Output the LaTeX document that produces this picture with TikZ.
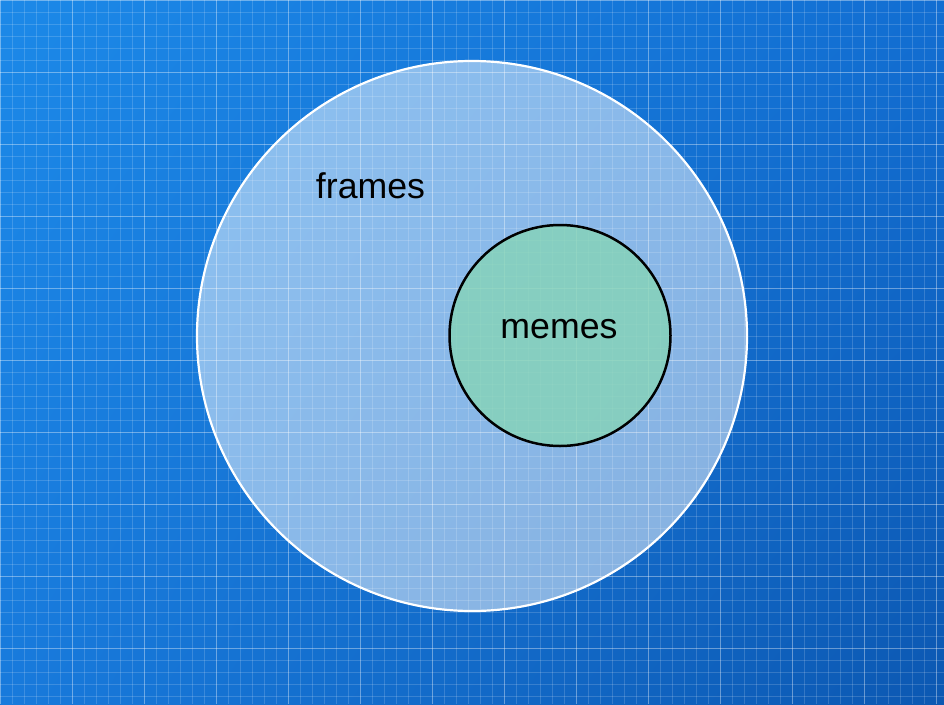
\documentclass[tikz,border=0pt]{standalone}
\usepackage{fontspec}
\setmainfont{Liberation Sans}
\usepackage{tikz}
\usetikzlibrary{shadings}
\definecolor{bpupleft}{RGB}{28,137,232}
\definecolor{bpupright}{RGB}{18,110,210}
\definecolor{bplowleft}{RGB}{24,122,220}
\definecolor{bplowright}{RGB}{12,88,178}
\definecolor{memeteal}{RGB}{134,213,182}
\tikzset{
  minorline/.style={white, opacity=0.16, line width=0.8pt},
  majorline/.style={white, opacity=0.26, line width=1pt},
  outerset/.style={circle, draw=white, line width=2.2pt, fill=white, fill opacity=0.5, minimum size=550pt, inner sep=0pt},
  innerset/.style={circle, draw=black, line width=2.5pt, fill=memeteal, fill opacity=0.78, minimum size=221pt, inner sep=0pt},
  setlabel/.style={font=\fontsize{35.7}{40}\selectfont, anchor=base, text=black, inner sep=0pt}
}
\begin{document}
\begin{tikzpicture}[x=1pt, y=-1pt]
\useasboundingbox (0,0) rectangle (944,704);
\shade[upper left=bpupleft, upper right=bpupright, lower left=bplowleft, lower right=bplowright] (0,0) rectangle (944,704);
% blueprint grid
\foreach \gx in {0,12,...,944} \draw[minorline] (\gx,0) -- (\gx,704);
\foreach \gy in {0,12,...,704} \draw[minorline] (0,\gy) -- (944,\gy);
\foreach \gx in {0,72,...,944} \draw[majorline] (\gx,0) -- (\gx,704);
\foreach \gy in {0,72,...,704} \draw[majorline] (0,\gy) -- (944,\gy);
% sets
\node[outerset] (frames) at (472,336) {};
\node[innerset] (memes) at (560,335.5) {};
\node[setlabel] (frameslabel) at (370.5,198) {frames};
\node[setlabel] (memeslabel) at (559,338) {memes};
\end{tikzpicture}
\end{document}
